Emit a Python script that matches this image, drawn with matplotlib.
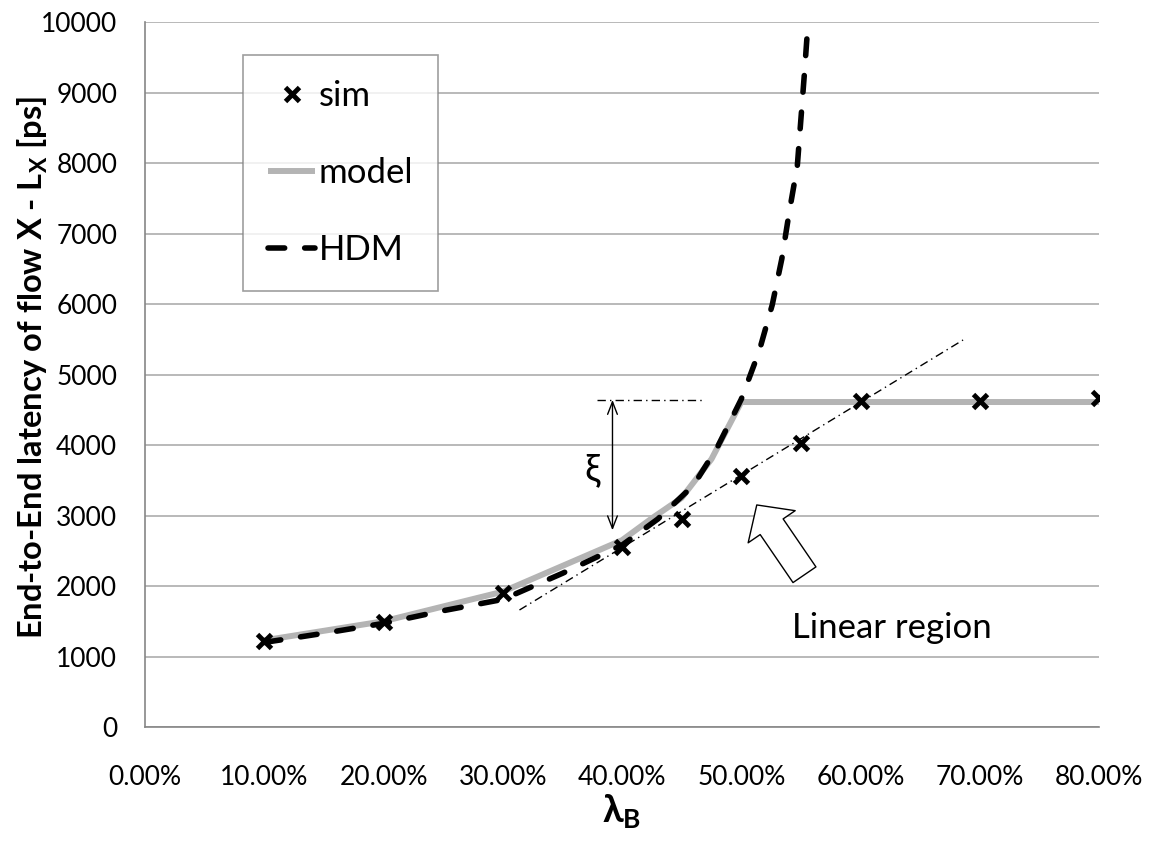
import matplotlib
matplotlib.use('Agg')
import matplotlib.pyplot as plt
from matplotlib.ticker import PercentFormatter

plt.rcParams['font.family'] = ['Lato', 'DejaVu Sans']
plt.rcParams['mathtext.fontset'] = 'custom'
plt.rcParams['mathtext.rm'] = 'Lato'
plt.rcParams['mathtext.bf'] = 'Lato:bold'
plt.rcParams['mathtext.fallback'] = 'stixsans'

# data
sim_x = [0.10, 0.20, 0.30, 0.40, 0.45, 0.50, 0.55, 0.60, 0.70, 0.80]
sim_y = [1220, 1490, 1900, 2550, 2950, 3560, 4030, 4620, 4620, 4660]

model_x = [0.10, 0.20, 0.30, 0.40, 0.425, 0.45, 0.475, 0.50, 0.60, 0.70, 0.80]
model_y = [1230, 1500, 1920, 2650, 2960, 3250, 3800, 4610, 4610, 4610, 4610]

hdm_x = [0.10, 0.15, 0.20, 0.25, 0.30, 0.35, 0.40, 0.43, 0.46, 0.48, 0.50,
         0.515, 0.526, 0.534, 0.54, 0.547, 0.553, 0.556, 0.558]
hdm_y = [1200, 1330, 1470, 1650, 1810, 2180, 2580, 2950, 3430, 3970, 4650,
         5330, 5990, 6640, 7280, 7960, 9280, 10000, 10500]

# annotation geometry
lin_x = [0.314, 0.686]
lin_y = [1660, 5490]
xi_top, xi_bot = 4640, 2790

fig = plt.figure(figsize=(11.52, 8.44), dpi=100)
ax = fig.add_axes([0.1259, 0.1386, 0.8281, 0.8353])

ax.plot(model_x, model_y, color='#b4b4b4', lw=4.3, label='model', zorder=3,
        solid_capstyle='butt')
ax.plot(hdm_x, hdm_y, color='black', lw=4, dashes=(3.0, 3.6),
        dash_capstyle='round', label='HDM', zorder=4)
ax.plot(sim_x, sim_y, ls='none', marker='x', color='black', ms=10, mew=3.5,
        label='sim', zorder=5)

# linear region guide line
ax.plot(lin_x, lin_y, color='black', lw=1, ls=(0, (6, 3, 1, 3)), zorder=2)
ax.plot([0.379, 0.47], [xi_top, xi_top], color='black', lw=1,
        ls=(0, (6, 3, 1, 3)), zorder=2)
ax.annotate('', xy=(0.392, xi_bot), xytext=(0.392, xi_top),
            arrowprops=dict(arrowstyle='<->,head_length=0.9,head_width=0.35',
                            color='black', lw=1, shrinkA=0, shrinkB=0))
ax.text(0.375, 3640, 'ξ', fontsize=28, ha='center', va='center')

ax.annotate('', xy=(0.513, 3150), xytext=(0.553, 2160),
            arrowprops=dict(arrowstyle='simple,head_length=1.9,head_width=4.1,tail_width=2.0',
                            fc='white', ec='black', lw=1, mutation_scale=10,
                            shrinkA=0, shrinkB=0), zorder=6)
ax.text(0.626, 1400, 'Linear region', fontsize=25, ha='center', va='center')

ax.set_xlim(0, 0.8)
ax.set_ylim(0, 10000)
ax.set_xticks([i / 10 for i in range(9)])
ax.set_yticks(range(0, 10001, 1000))
ax.xaxis.set_major_formatter(PercentFormatter(1.0, decimals=2))
ax.tick_params(length=0, labelsize=19)
ax.tick_params(axis='x', pad=27)
ax.tick_params(axis='y', pad=20)
ax.grid(axis='y', color='#a6a6a6', lw=1.1)
ax.set_axisbelow(True)
for s in ['top', 'right']:
    ax.spines[s].set_visible(False)
for s in ['left', 'bottom']:
    ax.spines[s].set_color('#868686')
    ax.spines[s].set_linewidth(1.2)

ax.set_ylabel(r'End-to-End latency of flow X - L$_\mathbf{X}$ [ps]',
              fontsize=23.5, fontweight='bold')
ax.yaxis.set_label_coords(-0.1, 0.51)
ax.set_xlabel(r'$\mathbf{\lambda_B}$', fontsize=27, labelpad=2)

h, l = ax.get_legend_handles_labels()
order = [2, 0, 1]
leg = ax.legend([h[i] for i in order], [l[i] for i in order],
                loc='upper left', bbox_to_anchor=(0.103, 0.953), fontsize=25,
                frameon=True, fancybox=False, edgecolor='#868686',
                handlelength=1.35, handletextpad=0.1, labelspacing=1.3,
                borderpad=0.72, borderaxespad=0)
leg.get_frame().set_linewidth(1.2)

fig.savefig('out.png', dpi=100)
